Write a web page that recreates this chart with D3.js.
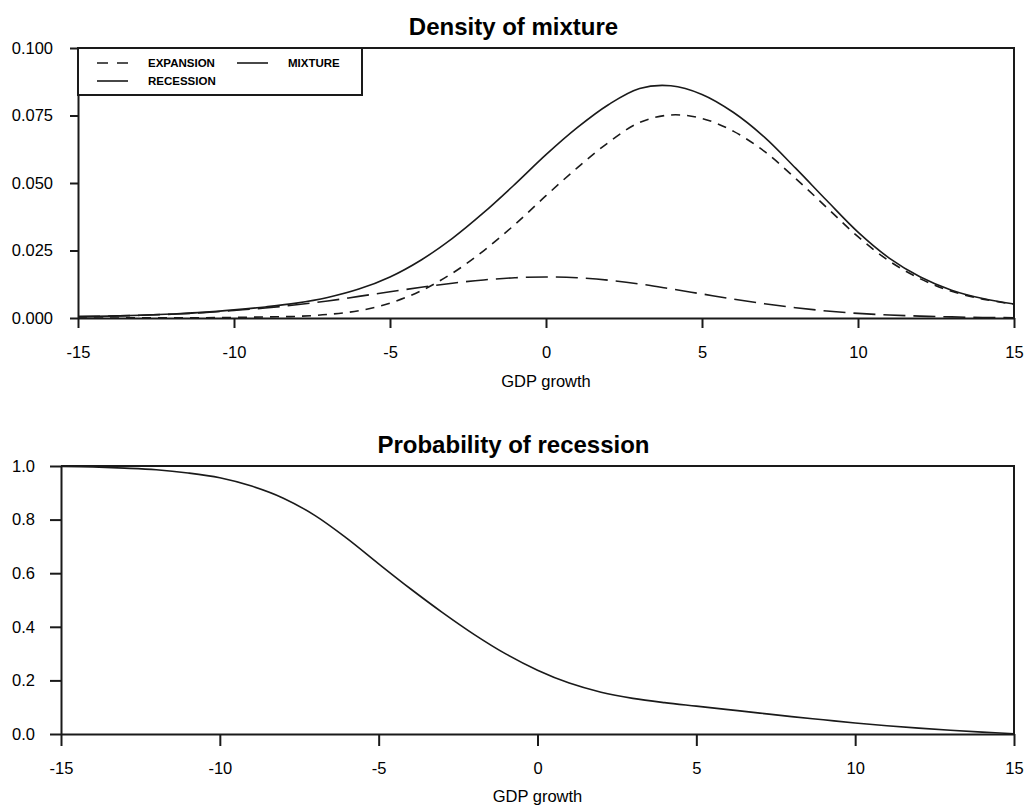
<!DOCTYPE html>
<html>
<head>
<meta charset="utf-8">
<script src="https://cdn.jsdelivr.net/npm/d3@7"></script>
<style>
  html, body { margin: 0; padding: 0; background: #fff; }
  svg { display: block; font-family: "Liberation Sans", Arial, sans-serif; }
</style>
</head>
<body>
<svg id="chart" width="1027" height="808"></svg>
<script>
// GDP growth grid (percent)
const growth = [-15,-14,-13,-12,-11,-10,-9,-8,-7,-6,-5,-4,-3,-2,-1,0,1,2,3,4,5,6,7,8,9,10,11,12,13,14,15];

// Weighted component densities and their mixture
const expansion = [0.0000,0.0000,0.0001,0.0001,0.0001,0.0002,0.0004,0.0006,0.0013,0.0027,0.0055,0.0101,0.0166,0.0249,0.0346,0.0453,0.0556,0.0650,0.0724,0.0752,0.0739,0.0692,0.0617,0.0517,0.0409,0.0301,0.0211,0.0145,0.0099,0.0070,0.0051];
const recession = [0.0005,0.0007,0.0010,0.0014,0.0020,0.0028,0.0037,0.0049,0.0063,0.0080,0.0097,0.0114,0.0129,0.0141,0.0149,0.0152,0.0149,0.0140,0.0126,0.0108,0.0089,0.0070,0.0053,0.0038,0.0026,0.0017,0.0011,0.0007,0.0004,0.0002,0.0001];
const mixture = [0.0005,0.0007,0.0010,0.0015,0.0021,0.0030,0.0041,0.0055,0.0076,0.0107,0.0152,0.0215,0.0295,0.0390,0.0495,0.0605,0.0705,0.0790,0.0850,0.0860,0.0828,0.0762,0.0670,0.0555,0.0435,0.0318,0.0222,0.0152,0.0103,0.0072,0.0052];

// Posterior probability of being in recession
const probRecession = [0.998,0.996,0.992,0.986,0.974,0.956,0.925,0.880,0.815,0.730,0.635,0.542,0.454,0.372,0.299,0.238,0.190,0.156,0.133,0.117,0.104,0.091,0.078,0.065,0.053,0.041,0.031,0.022,0.014,0.007,0.001];

// Axis ticks
const xTicks = [-15,-10,-5,0,5,10,15];
const densityTicks = [0, 0.025, 0.05, 0.075, 0.1];
const probTicks = [0, 0.2, 0.4, 0.6, 0.8, 1.0];

const legendItems = [
  {label: "EXPANSION", dash: "11,9", col: 0, row: 0},
  {label: "MIXTURE", dash: null, col: 1, row: 0},
  {label: "RECESSION", dash: null, col: 0, row: 1}
];

const svg = d3.select("#chart");
const ink = "#1a1a1a";
const pageMid = 1027 / 2;

function drawFrame(g, x, y, opts) {
  const [x0, x1] = x.range();
  const [y0, y1] = y.range(); // y0 bottom, y1 top
  const xa = d3.axisBottom(x).tickValues(xTicks).tickSize(opts.xTick).tickSizeOuter(0)
    .tickPadding(opts.xPad).tickFormat(d => String(d));
  const ya = d3.axisLeft(y).tickValues(opts.yTicks).tickSize(opts.yTick).tickSizeOuter(0)
    .tickPadding(opts.yPad).tickFormat(d3.format(opts.yFmt));
  const gx = g.append("g").attr("transform", `translate(0,${y0})`).call(xa);
  const gy = g.append("g").attr("transform", `translate(${x0},0)`).call(ya);
  [gx, gy].forEach(a => {
    a.selectAll("path, line").attr("stroke", ink).attr("stroke-width", 2);
    a.selectAll("text").attr("fill", "#000").style("font-size", "16.5px");
  });
  // closing top and right edges
  g.append("path")
    .attr("d", `M${x0},${y1}H${x1}V${y0}`)
    .attr("fill", "none").attr("stroke", ink).attr("stroke-width", 2);
  g.append("text").attr("x", (x0 + x1) / 2).attr("y", opts.xTitleY)
    .attr("text-anchor", "middle").style("font-size", "16.5px").text("GDP growth");
  g.append("text").attr("x", pageMid).attr("y", opts.titleY)
    .attr("text-anchor", "middle").style("font-size", "24px").style("font-weight", "bold")
    .text(opts.title);
}

// ---- Top panel: densities ----
const xTop = d3.scaleLinear().domain([-15, 15]).range([78, 1014]);
const yTop = d3.scaleLinear().domain([0, 0.1]).range([318, 48]);
const densityPanel = svg.append("g");
drawFrame(densityPanel, xTop, yTop, {
  xTick: 10, xPad: 18, yTick: 8, yPad: 17, yTicks: densityTicks, yFmt: ".3f",
  xTitleY: 387, titleY: 35, title: "Density of mixture"
});

const lineTop = vals => d3.line()
  .x((d, i) => xTop(growth[i]))
  .y(d => yTop(d))
  .curve(d3.curveCatmullRom.alpha(0.5))(vals);

densityPanel.append("path").attr("d", lineTop(recession)).attr("fill", "none")
  .attr("stroke", ink).attr("stroke-width", 1.6).attr("stroke-dasharray", "22,8");
densityPanel.append("path").attr("d", lineTop(expansion)).attr("fill", "none")
  .attr("stroke", ink).attr("stroke-width", 1.6).attr("stroke-dasharray", "9,7");
densityPanel.append("path").attr("d", lineTop(mixture)).attr("fill", "none")
  .attr("stroke", ink).attr("stroke-width", 1.6);

// legend box in the upper-left corner
const leg = densityPanel.append("g");
leg.append("rect").attr("x", 78).attr("y", 48).attr("width", 284).attr("height", 47)
  .attr("fill", "#fff").attr("stroke", ink).attr("stroke-width", 2);
legendItems.forEach(it => {
  const lx = 97 + it.col * 140, ly = 63 + it.row * 18;
  leg.append("line").attr("x1", lx).attr("x2", lx + 31).attr("y1", ly).attr("y2", ly)
    .attr("stroke", ink).attr("stroke-width", 1.6)
    .attr("stroke-dasharray", it.dash);
  leg.append("text").attr("x", lx + 51).attr("y", ly + 4)
    .style("font-size", "11.5px").style("font-weight", "bold")
    .text(it.label);
});

// ---- Bottom panel: probability of recession ----
const xBot = d3.scaleLinear().domain([-15, 15]).range([61, 1014]);
const yBot = d3.scaleLinear().domain([0, 1]).range([734, 466]);
const probPanel = svg.append("g");
drawFrame(probPanel, xBot, yBot, {
  xTick: 12, xPad: 16, yTick: 11, yPad: 15, yTicks: probTicks, yFmt: ".1f",
  xTitleY: 802, titleY: 453, title: "Probability of recession"
});

probPanel.append("path")
  .attr("d", d3.line().x((d, i) => xBot(growth[i])).y(d => yBot(d))
    .curve(d3.curveCatmullRom.alpha(0.5))(probRecession))
  .attr("fill", "none").attr("stroke", ink).attr("stroke-width", 1.6);
</script>
</body>
</html>
